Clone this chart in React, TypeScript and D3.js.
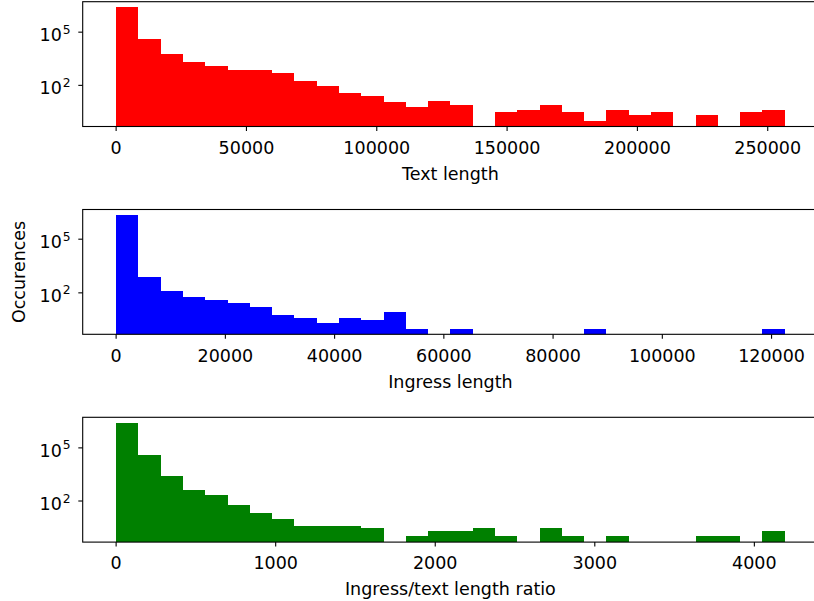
import React from "react";
import * as d3 from "d3";

// ---- data ----
const BINS = 30;

const textMax = 256500;
const textCounts = [2500000, 41000, 6000, 2100, 1230, 740, 740, 510, 180, 93, 37, 26, 12, 6, 14, 8, 0, 3, 4, 8, 3, 1, 4, 2, 3, 0, 2, 0, 3, 4];
const textTicks = [0, 50000, 100000, 150000, 200000, 250000];

const ingressMax = 122400;
const ingressCounts = [2200000, 800, 130, 55, 42, 27, 16, 6, 4, 2, 4, 3, 8, 1, 0, 1, 0, 0, 0, 0, 0, 1, 0, 0, 0, 0, 0, 0, 0, 1];
const ingressTicks = [0, 20000, 40000, 60000, 80000, 100000, 120000];

const ratioMax = 4190;
const ratioCounts = [2550000, 42000, 2450, 420, 210, 62, 22, 10, 4, 4, 4, 3, 0, 1, 2, 2, 3, 1, 0, 3, 1, 0, 1, 0, 0, 0, 1, 1, 0, 2];
const ratioTicks = [0, 1000, 2000, 3000, 4000];

const yTickExps = [2, 5];

const panels = [
  { counts: textCounts, max: textMax, ticks: textTicks, color: "#ff0000", label: "Text length" },
  { counts: ingressCounts, max: ingressMax, ticks: ingressTicks, color: "#0000ff", label: "Ingress length" },
  { counts: ratioCounts, max: ratioMax, ticks: ratioTicks, color: "#008000", label: "Ingress/text length ratio" },
];

// ---- layout ----
const W = 814;
const H = 601;
const LEFT = 82.7;
const PW = 735.4;
const TOPS = [1.7, 209.5, 417.3];
const PH = 124.8;
const FONT = "DejaVu Sans, sans-serif";
const FS = 17.5;
const TICK = 4.4;

function Panel({ p, top }: { p: (typeof panels)[number]; top: number }) {
  const bottom = top + PH;
  const x = d3.scaleLinear().domain([-0.05 * p.max, 1.05 * p.max]).range([LEFT, LEFT + PW]);
  const L = Math.log10(d3.max(p.counts) as number);
  const y = d3.scaleLog().domain([Math.pow(10, -0.05 * L), Math.pow(10, 1.05 * L)]).range([bottom, top]);
  const bw = p.max / BINS;
  const clipId = `clip-${Math.round(top)}`;
  return (
    <g>
      <defs>
        <clipPath id={clipId}>
          <rect x={LEFT} y={top} width={PW} height={PH} />
        </clipPath>
      </defs>
      <g clipPath={`url(#${clipId})`}>
        {p.counts.map((c, i) =>
          c > 0 ? (
            <rect
              key={i}
              x={x(i * bw)}
              y={y(c)}
              width={x((i + 1) * bw) - x(i * bw)}
              height={bottom - y(c) + 2}
              fill={p.color}
              shapeRendering="crispEdges"
            />
          ) : null
        )}
      </g>
      <rect x={LEFT} y={top} width={PW} height={PH} fill="none" stroke="#000" strokeWidth={1.1} />
      {p.ticks.map((t) => (
        <g key={t}>
          <line x1={x(t)} x2={x(t)} y1={bottom} y2={bottom + TICK} stroke="#000" strokeWidth={1.1} />
          <text x={x(t)} y={bottom + 27.3} textAnchor="middle" fontFamily={FONT} fontSize={FS} fill="#000">
            {String(t)}
          </text>
        </g>
      ))}
      <text x={x(p.max / 2)} y={bottom + 53.3} textAnchor="middle" fontFamily={FONT} fontSize={FS} fill="#000">
        {p.label}
      </text>
      {yTickExps.map((e) => {
        const ty = y(Math.pow(10, e));
        return (
          <g key={e}>
            <line x1={LEFT - TICK} x2={LEFT} y1={ty} y2={ty} stroke="#000" strokeWidth={1.1} />
            <text x={LEFT - 20.8} y={ty + 9} textAnchor="end" fontFamily={FONT} fontSize={FS} fill="#000">
              10
            </text>
            <text x={LEFT - 20} y={ty + 1.5} textAnchor="start" fontFamily={FONT} fontSize={12.3} fill="#000">
              {String(e)}
            </text>
          </g>
        );
      })}
    </g>
  );
}

export default function App() {
  return (
    <svg width={W} height={H} style={{ position: "absolute", left: 0, top: 0, background: "#fff" }}>
      <rect x={0} y={0} width={W} height={H} fill="#fff" />
      {panels.map((p, i) => (
        <Panel key={i} p={p} top={TOPS[i]} />
      ))}
      <text
        transform={`translate(25,${TOPS[1] + PH / 2}) rotate(-90)`}
        textAnchor="middle"
        fontFamily={FONT}
        fontSize={FS}
        fill="#000"
      >
        Occurences
      </text>
    </svg>
  );
}
